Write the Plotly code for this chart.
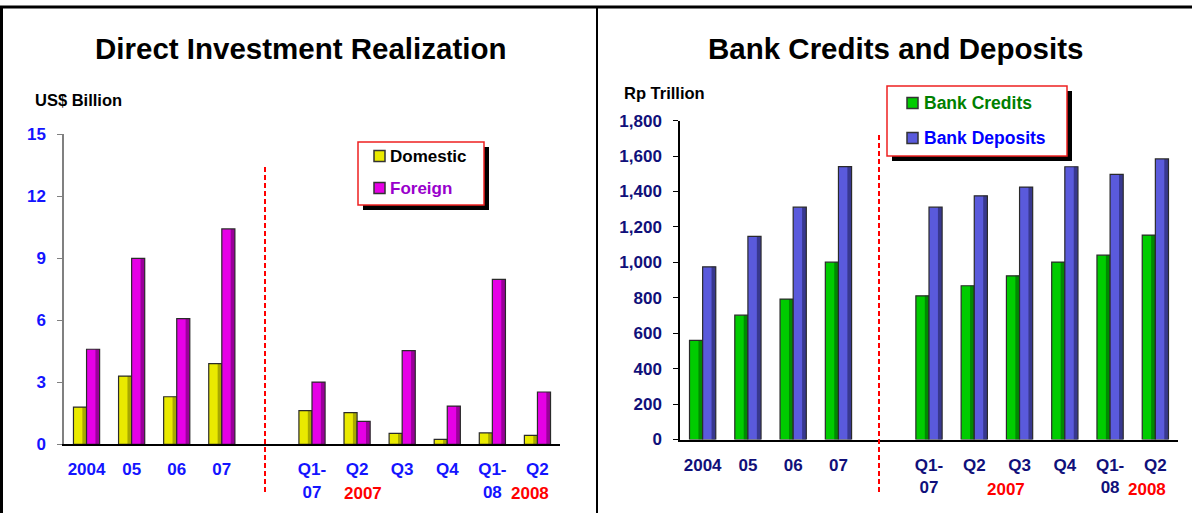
import plotly.graph_objects as go

W, H = 1192, 513

# categorias del eje x (la "gap" deja el hueco de la linea roja)
categorias = ["2004", "05", "06", "07", "gap", "Q1-07", "Q2-07", "Q3-07", "Q4-07", "Q1-08", "Q2-08"]
etiquetas = ["2004", "05", "06", "07", "", "Q1-<br>07", "Q2", "Q3", "Q4", "Q1-<br>08", "Q2"]

# Direct Investment Realization (US$ Billion)
domestico = [1.8, 3.3, 2.3, 3.9, None, 1.63, 1.53, 0.53, 0.24, 0.55, 0.43]
extranjero = [4.6, 9.0, 6.08, 10.42, None, 3.01, 1.11, 4.53, 1.85, 7.98, 2.53]

# Bank Credits and Deposits (Rp Trillion)
creditos = [560, 702, 793, 1001, None, 811, 868, 924, 1002, 1041, 1154]
depositos = [975, 1147, 1312, 1541, None, 1312, 1376, 1425, 1540, 1497, 1584]

# (nombre, valores, color, sombra, color del texto de la leyenda)
series_izq = [("Domestic", domestico, "#EAEA00", "#A8A800", "black"),
              ("Foreign", extranjero, "#E600E6", "#9A009A", "#9900CC")]
series_der = [("Bank Credits", creditos, "#00CC00", "#008A00", "#008000"),
              ("Bank Deposits", depositos, "#5A5ADC", "#38388F", "#0000FF")]

AZUL = "#1414FF"
MARINO = "#10107A"
FUENTE = "Liberation Sans, Arial, sans-serif"
ANCHO = 0.29  # ancho de cada barra en unidades de categoria


def px(x):
    return x / W


def py(y):
    return 1 - y / H


fig = go.Figure()


def barras(series, ejex, ejey):
    for i, (nombre, valores, color, sombra, _) in enumerate(series):
        off = -ANCHO + i * ANCHO
        # cuerpo
        fig.add_trace(go.Bar(x=categorias, y=valores, name=nombre, xaxis=ejex, yaxis=ejey,
                             width=ANCHO, offset=off, marker=dict(color=color, line=dict(width=0))))
        # lado oscuro (efecto 3D)
        fig.add_trace(go.Bar(x=categorias, y=valores, name=nombre, xaxis=ejex, yaxis=ejey,
                             width=ANCHO * 0.3, offset=off + ANCHO * 0.68,
                             marker=dict(color=sombra, line=dict(width=0))))
        # contorno
        fig.add_trace(go.Bar(x=categorias, y=valores, name=nombre, xaxis=ejex, yaxis=ejey,
                             width=ANCHO, offset=off,
                             marker=dict(color="rgba(0,0,0,0)", line=dict(color="#2a2a2a", width=1.2))))


barras(series_izq, "x", "y")
barras(series_der, "x2", "y2")


def eje_x(dominio, ancla, color):
    return dict(domain=dominio, anchor=ancla, type="category", categoryorder="array",
                categoryarray=categorias, tickvals=categorias, ticktext=etiquetas,
                showline=True, linecolor="black", linewidth=1.5, ticks="outside", ticklen=0,
                ticklabelstandoff=9, showgrid=False, automargin=False,
                tickfont=dict(family=FUENTE, size=17, color=color, weight="bold"))


def eje_y(dominio, ancla, rango, paso, color, linea, formato=""):
    return dict(domain=dominio, anchor=ancla, range=rango, dtick=paso, tickformat=formato,
                showline=True, linecolor=linea, linewidth=1.5, ticks="outside", ticklen=5,
                tickcolor=linea, showgrid=False, zeroline=False, ticklabelstandoff=8,
                automargin=False,
                tickfont=dict(family=FUENTE, size=17, color=color, weight="bold"))


shapes = [
    # marco
    dict(type="line", xref="paper", yref="paper", x0=px(1.5), x1=px(1.5), y0=py(6), y1=py(513),
         line=dict(color="black", width=3)),
    dict(type="line", xref="paper", yref="paper", x0=0, x1=1, y0=py(7), y1=py(7),
         line=dict(color="black", width=3)),
    dict(type="line", xref="paper", yref="paper", x0=px(597), x1=px(597), y0=py(7), y1=py(513),
         line=dict(color="black", width=2)),
    # lineas divisorias rojas
    dict(type="line", xref="paper", yref="paper", x0=px(265), x1=px(265), y0=py(167), y1=py(494),
         line=dict(color="red", width=2, dash="5px,3px")),
    dict(type="line", xref="paper", yref="paper", x0=px(879), x1=px(879), y0=py(135), y1=py(494),
         line=dict(color="red", width=2, dash="5px,3px")),
]

annotations = [
    dict(text="<b>Direct Investment Realization</b>", x=px(300), y=py(48)),
    dict(text="<b>Bank Credits and Deposits</b>", x=px(895), y=py(48)),
]
for a in annotations:
    a.update(xref="paper", yref="paper", showarrow=False, xanchor="center", yanchor="middle",
             font=dict(family=FUENTE, size=29.5, color="black"))

annotations += [
    dict(text="<b>US$ Billion</b>", x=px(33), y=py(100), xanchor="left", yanchor="middle",
         xref="paper", yref="paper", showarrow=False, font=dict(family=FUENTE, size=16.5, color="black")),
    dict(text="<b>Rp Trillion</b>", x=px(622), y=py(93), xanchor="left", yanchor="middle",
         xref="paper", yref="paper", showarrow=False, font=dict(family=FUENTE, size=16.5, color="black")),
]

# etiquetas de año en rojo
for eje, cat, dx, y in [("x", "Q2-07", 6, 493), ("x", "Q2-08", -7, 493),
                        ("x2", "Q2-07", 32, 489), ("x2", "Q2-08", -8, 489)]:
    annotations.append(dict(text="<b>" + ("2007" if cat.endswith("07") else "2008") + "</b>",
                            xref=eje, x=cat, xshift=dx, yref="paper", y=py(y),
                            showarrow=False, xanchor="center", yanchor="middle",
                            font=dict(family=FUENTE, size=17, color="#FF0000")))


# leyendas dibujadas a mano (caja roja con sombra negra)
def leyenda(caja, series, cuadro_x, filas_y, texto_x, tam):
    x0, y0, x1, y1 = caja
    shapes.append(dict(type="rect", xref="paper", yref="paper", x0=px(x0 + 5), x1=px(x1 + 5),
                       y0=py(y0 + 5), y1=py(y1 + 5), fillcolor="black", line=dict(width=0)))
    shapes.append(dict(type="rect", xref="paper", yref="paper", x0=px(x0), x1=px(x1),
                       y0=py(y0), y1=py(y1), fillcolor="white", line=dict(color="#EE2020", width=1.5)))
    for (nombre, _, color, sombra, color_txt), yc in zip(series, filas_y):
        shapes.append(dict(type="rect", xref="paper", yref="paper", x0=px(cuadro_x), x1=px(cuadro_x + 11),
                           y0=py(yc - 5.5), y1=py(yc + 5.5), fillcolor=color,
                           line=dict(color="#333333", width=1.5)))
        annotations.append(dict(text="<b>" + nombre + "</b>", xref="paper", yref="paper",
                                x=px(texto_x), y=py(yc), xanchor="left", yanchor="middle",
                                showarrow=False, font=dict(family=FUENTE, size=tam, color=color_txt)))


leyenda((358, 142, 484, 205), series_izq, 374, [156, 188], 388, 17)
leyenda((887, 86, 1067, 156), series_der, 907, [103, 138], 922, 17.5)

fig.update_layout(
    width=W, height=H, autosize=False,
    margin=dict(l=0, r=0, t=0, b=0, autoexpand=False),
    paper_bgcolor="white", plot_bgcolor="white",
    barmode="overlay",
    showlegend=False,
    xaxis=eje_x([px(64), px(560)], "y", AZUL),
    yaxis=eje_y([py(444.3), py(134.3)], "x", [0, 15], 3, AZUL, "#808080"),
    xaxis2=eje_x([px(680), px(1178)], "y2", MARINO),
    yaxis2=eje_y([py(439.5), py(120.7)], "x2", [0, 1800], 200, MARINO, "black", ","),
    shapes=shapes,
    annotations=annotations,
)

# pegar la grafica a la esquina de la ventana
ajuste = ("document.body.style.margin='0';"
          "var d=document.getElementById('{plot_id}');"
          "d.style.position='absolute';d.style.left='0px';d.style.top='0px';")
fig.write_html("out.html", post_script=ajuste, config={"displayModeBar": False})
